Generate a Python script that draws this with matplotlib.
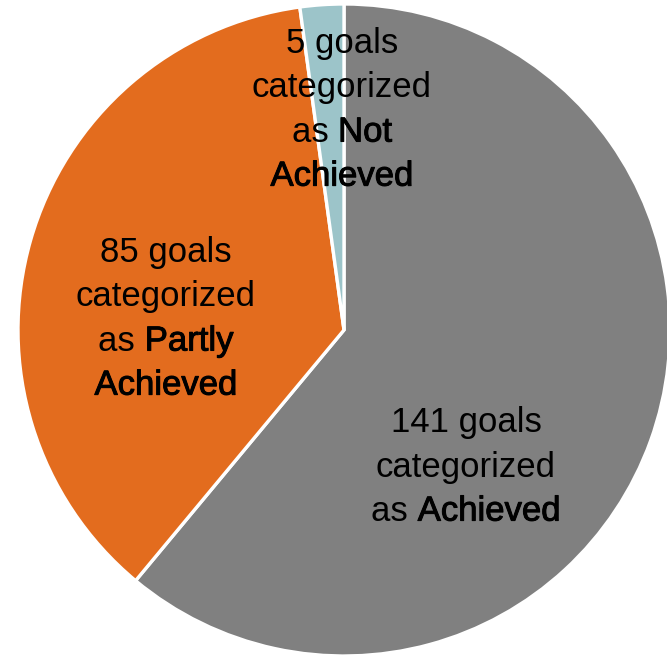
import matplotlib
matplotlib.use("Agg")
import matplotlib.pyplot as plt
import matplotlib.patheffects as pe
from matplotlib.offsetbox import TextArea, HPacker, VPacker, AnnotationBbox

# Goal status counts, drawn clockwise from 12 o'clock
categories = ["Achieved", "Partly Achieved", "Not Achieved"]
counts = [141, 85, 5]
colors = ["#808080", "#E36C1E", "#9CC4C9"]

W, H = 667, 656
fig = plt.figure(figsize=(W / 100, H / 100), dpi=100)
ax = fig.add_axes([0, 0, 1, 1])

ax.pie(counts, colors=colors, startangle=90, counterclock=False,
       radius=1.0, wedgeprops=dict(edgecolor="white", linewidth=2.4))

# pie centre and radius in pixels; axes limits in units of the radius
cx, cy, r = 344, 330, 326
ax.set_xlim(-cx / r, (W - cx) / r)
ax.set_ylim(-(H - cy) / r, cy / r)
ax.set_aspect("equal")
ax.axis("off")

FONT = "Liberation Sans"
SIZE = 25
# medium weight for the status word: regular glyphs with a thin outline
MEDIUM = [pe.withStroke(linewidth=0.7, foreground="black")]


def label_lines(count, name):
    words = name.split()
    rows = [[(f"{count} goals", False)],
            [("categorized", False)],
            [("as ", False), (words[0], True)]]
    if len(words) > 1:
        rows.append([(" ".join(words[1:]), True)])
    return rows


def make_box(rows):
    packed = []
    for row in rows:
        parts = []
        for t, strong in row:
            props = dict(fontfamily=FONT, fontsize=SIZE, color="black")
            if strong:
                props["path_effects"] = MEDIUM
            parts.append(TextArea(t, textprops=props))
        packed.append(HPacker(children=parts, align="baseline", pad=0, sep=0))
    return VPacker(children=packed, align="center", pad=0, sep=8)


# label centres in pixel coordinates
label_px = [(466, 467), (166, 319), (342, 110)]

for c, n, (px, py) in zip(counts, categories, label_px):
    box = make_box(label_lines(c, n))
    ab = AnnotationBbox(box, ((px - cx) / r, (cy - py) / r), frameon=False,
                        box_alignment=(0.5, 0.5), pad=0)
    ax.add_artist(ab)

fig.savefig("out.png", dpi=100, facecolor="white")
